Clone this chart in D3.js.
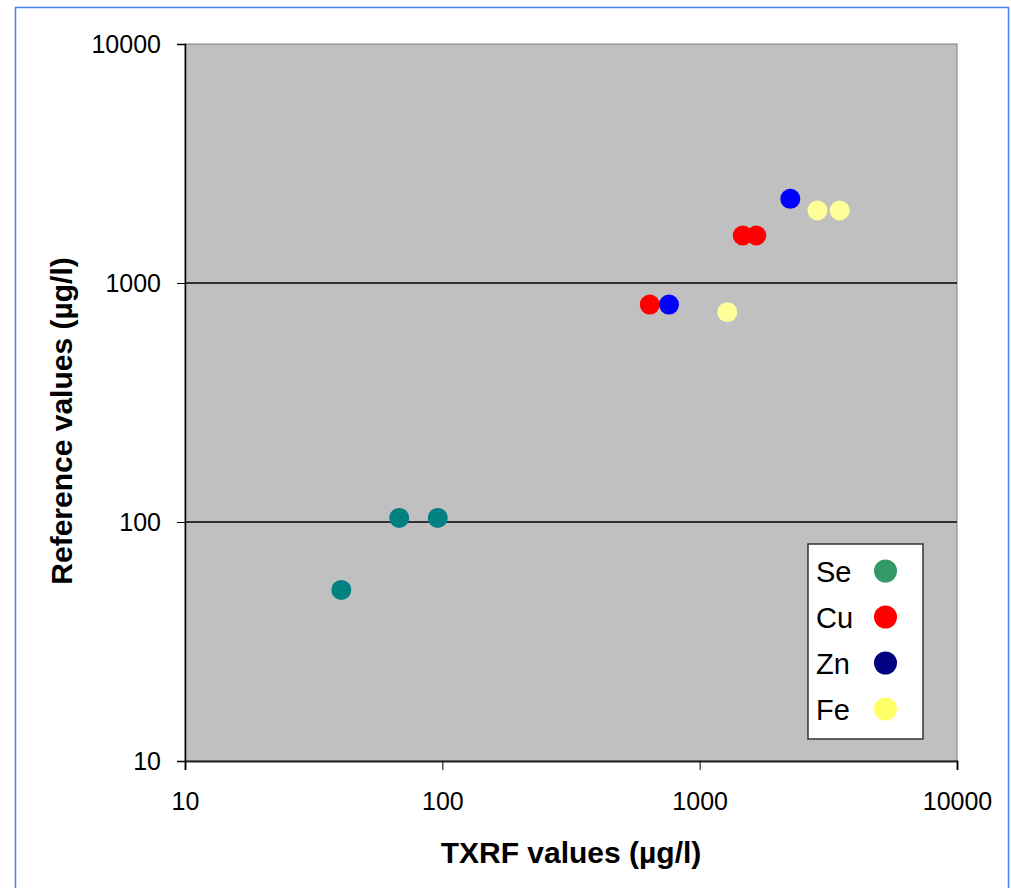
<!DOCTYPE html>
<html>
<head>
<meta charset="utf-8">
<script src="https://cdn.jsdelivr.net/npm/d3@7"></script>
<style>
  body { margin: 0; background: #fff; }
  text { font-family: "Liberation Sans", Arial, sans-serif; }
</style>
</head>
<body>
<div id="chart"></div>
<script>
// values
var elements = ['Se', 'Cu', 'Zn', 'Fe']
var se_txrf = [40.5, 68, 96]
var se_ref = [52, 104, 104]
var cu_txrf = [640, 1470, 1660]
var cu_ref = [812, 1580, 1580]
var zn_txrf = [760, 2250]
var zn_ref = [812, 2250]
var fe_txrf = [1280, 2870, 3500]
var fe_ref = [755, 2010, 2010]
var point_colors = ['#008080', '#ff0000', '#0000ff', '#ffff99']
var legend_colors = ['#339966', '#ff0000', '#000080', '#ffff66']
var tick_values = [10, 100, 1000, 10000]

;(function(){
  var W = 1011, H = 888
  var m_left = 185, m_right = 957, m_top = 44, m_bottom = 761

  var svg = d3.select('#chart').append('svg')
    .attr('width', W)
    .attr('height', H)

  // outer frame
  svg.append('rect')
    .attr('x', 15.5).attr('y', 7.5)
    .attr('width', 993).attr('height', 900)
    .attr('fill', '#fff')
    .attr('stroke', '#4a7ef0')
    .attr('stroke-width', 1.5)

  var x = d3.scaleLog().domain([10, 10000]).range([m_left, m_right])
  var y = d3.scaleLog().domain([10, 10000]).range([m_bottom, m_top])

  svg.append('rect')
    .attr('x', m_left).attr('y', m_top)
    .attr('width', m_right - m_left).attr('height', m_bottom - m_top)
    .attr('fill', '#c0c0c0')
    .attr('stroke', '#808080')
    .attr('stroke-width', 1)

  // gridlines
  svg.append('g').selectAll('line')
    .data(tick_values.slice(1, 3))
    .enter().append('line')
    .attr('x1', m_left).attr('x2', m_right)
    .attr('y1', function(d){ return y(d) }).attr('y2', function(d){ return y(d) })
    .attr('stroke', '#000').attr('stroke-width', 1.3)

  var xAxis = svg.append('g')
    .attr('transform', 'translate(0,' + m_bottom + ')')
    .call(d3.axisBottom(x).tickValues(tick_values).tickFormat(d3.format('d')).tickSizeOuter(0).tickSize(9).tickPadding(22))
  xAxis.select('.domain').attr('stroke', '#222').attr('stroke-width', 2)
  xAxis.selectAll('text').attr('font-size', 25).attr('fill', '#000')

  var yAxis = svg.append('g')
    .attr('transform', 'translate(' + m_left + ',0)')
    .call(d3.axisLeft(y).tickValues(tick_values).tickFormat(d3.format('d')).tickSizeOuter(0).tickSize(8).tickPadding(16))
  yAxis.select('.domain').attr('stroke', '#000').attr('stroke-width', 1.5)
  yAxis.selectAll('text').attr('font-size', 25).attr('fill', '#000')

  // axis titles
  svg.append('text')
    .attr('x', 571).attr('y', 863)
    .attr('text-anchor', 'middle')
    .attr('font-size', 30).attr('font-weight', 'bold')
    .text('TXRF values (µg/l)')

  svg.append('text')
    .attr('transform', 'translate(72,421) rotate(-90)')
    .attr('text-anchor', 'middle')
    .attr('font-size', 30).attr('font-weight', 'bold')
    .text('Reference values (µg/l)')

  // points
  var series = [
    { xs: se_txrf, ys: se_ref },
    { xs: cu_txrf, ys: cu_ref },
    { xs: zn_txrf, ys: zn_ref },
    { xs: fe_txrf, ys: fe_ref }
  ]
  series.forEach(function(s, i){
    svg.append('g').selectAll('circle')
      .data(s.xs)
      .enter().append('circle')
      .attr('cx', function(d){ return x(d) })
      .attr('cy', function(d, j){ return y(s.ys[j]) })
      .attr('r', 10)
      .attr('fill', point_colors[i])
  })

  // legend
  var lg = svg.append('g')
  lg.append('rect')
    .attr('x', 808).attr('y', 544)
    .attr('width', 115).attr('height', 195)
    .attr('fill', '#fff')
    .attr('stroke', '#333').attr('stroke-width', 1.5)

  elements.forEach(function(e, i){
    var cy = 571 + i * 46
    lg.append('text')
      .attr('x', 816).attr('y', cy + 11)
      .attr('font-size', 29)
      .text(e)
    lg.append('circle')
      .attr('cx', 885.5).attr('cy', cy)
      .attr('r', 11.5)
      .attr('fill', legend_colors[i])
  })
})()
</script>
</body>
</html>
